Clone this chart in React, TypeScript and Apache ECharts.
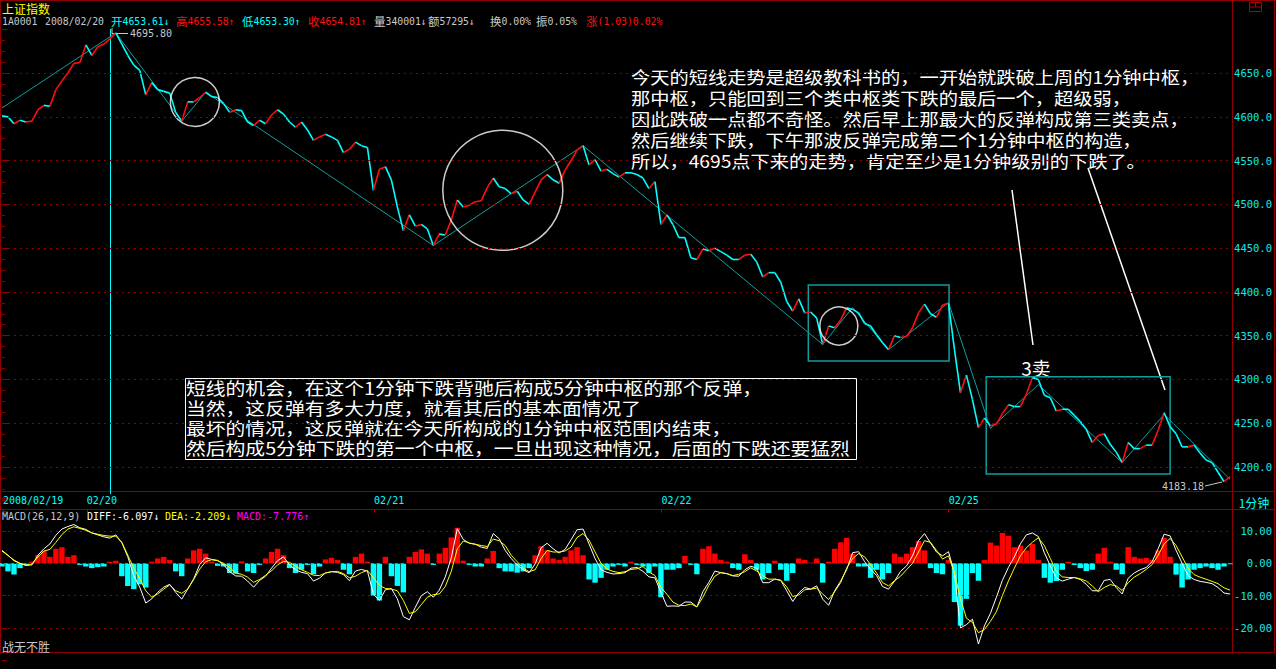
import React, { useEffect, useRef } from 'react';
import * as echarts from 'echarts';

// ---------- data ----------
const dayDates = ['02/19', '02/20', '02/21', '02/22', '02/25'];
const firstDayLabel = '2008/02/19';

// 5-minute samples of the 1-minute index line
const price = [
  4601, 4600, 4592, 4596, 4594, 4595, 4608, 4613, 4612, 4631, 4641, 4650, 4661, 4662,
  4682, 4670, 4680, 4683, 4689, 4695.8, 4683, 4670, 4659, 4653, 4625, 4639, 4631, 4629, 4627, 4605,
  4595, 4617, 4617, 4622, 4628, 4623, 4622, 4615, 4605, 4608, 4607, 4594, 4590, 4596, 4592, 4602,
  4608, 4603, 4594, 4588, 4594, 4585, 4573, 4577, 4580, 4577, 4573, 4559, 4563, 4571, 4567, 4565,
  4516, 4540, 4543, 4528, 4497, 4470, 4488, 4475, 4477, 4472, 4453, 4466, 4465, 4482, 4505, 4497,
  4499, 4503, 4504, 4519, 4530, 4520, 4518, 4512, 4515, 4505, 4500, 4514, 4528, 4534, 4528, 4524,
  4539, 4550, 4562, 4567, 4545, 4551, 4538, 4540, 4535, 4531, 4536, 4536, 4534, 4530, 4518, 4526,
  4477, 4488, 4477, 4462, 4462, 4439, 4437, 4449, 4447, 4450, 4446, 4442, 4437, 4437, 4442, 4443,
  4434, 4417, 4422, 4422, 4411, 4389, 4378, 4392, 4376, 4377, 4370, 4340, 4361, 4359, 4368, 4382,
  4380, 4376, 4364, 4361, 4351, 4342, 4334, 4350, 4348, 4349, 4359, 4376, 4386, 4375, 4371, 4385,
  4387, 4334, 4285, 4305, 4277, 4245, 4256, 4247, 4249, 4261, 4271, 4269, 4269, 4283, 4302, 4300,
  4282, 4279, 4264, 4266, 4266, 4259, 4252, 4243, 4228, 4236, 4238, 4226, 4217, 4205, 4228, 4221,
  4221, 4225, 4225, 4242, 4262, 4246, 4238, 4223, 4223, 4225, 4216, 4208, 4205, 4194, 4183.18, 4189,
];

const diff = [
  4.0, 2.5, 0.8, 0, -0.6, -0.5, 2.5, 4.5, 6.0, 8.7, 10.6, 11.4, 12.0, 11.0, 10.5, 9.4,
  8.8, 8.2, 7.8, 8.8, 6.4, 2.0, -3.8, -7.4, -12.3, -11.0, -9.0, -7.4, -6.5, -9.0, -11.1, -8.0,
  -4.8, -0.4, 1.7, 1.2, 0.9, -0.5, -2.6, -3.9, -4.0, -5.5, -7.4, -5.3, -4.0, -1.5, 0.8, 2.0,
  -0.5, -2.0, -2.8, -3.2, -5.5, -4.6, -3.0, -2.6, -2.8, -3.5, -5.4, -2.4, -1.9, -2.4, -9.5, -11.5,
  -8.2, -7.8, -11.0, -16.5, -17.5, -13.6, -10.0, -8.8, -10.5, -8.3, -4.2, 1.7, 10.7, 7.4, 6.2, 5.9,
  5.0, 4.6, 9.2, 7.6, 4.0, 1.5, -0.5, -2.0, -2.9, -0.2, 4.8, 6.2, 4.5, 3.2, 4.3, 7.3,
  10.4, 10.6, 6.0, 1.5, -2.0, -2.8, -3.3, -3.2, -2.9, -1.5, -1.3,
  -2.5, -4.2, -4.5, -9.0, -13.3, -13.2, -13.3, -12.0, -12.0, -13.5, -8.8, -5.9, -2.4, -2.9, -3.2,
  -3.9, -4.0, -2.0, -0.9, -1.5, -6.0, -6.0, -4.9, -5.3, -8.5, -11.8, -9.2, -7.5, -8.0, -7.0, -11.1,
  -13.0, -8.5, -5.5, -2.0, 3.3, 3.6, 0.5, -1.8, -3.8, -7.2, -8.0, -5.5, -2.5, -0.8, 2.3, 7.0,
  9.2, 6.3, 3.5, 2.3, 3.6, -3.0, -20.0, -19.0, -17.3, -25.0, -19.4, -15.5, -10.5, -5.3, -1.3, 2.0,
  6.0, 8.8, 9.4, 8.3, 3.3, -0.8, -4.5, -5.5, -4.9, -4.4, -5.0, -6.5, -8.5, -8.5, -5.3, -5.0,
  -7.5, -9.5, -4.6, -3.0, -2.0, -1.3, 0.5, 4.5, 9.0, 8.5, 4.0, 0.0, -3.8, -5.0, -5.6, -5.9,
  -6.3, -7.5, -9.2, -9.5,
];

const dea = [
  3.8, 2.4, 1.0, 0.0, -0.7, -0.2, 2.0, 3.8, 4.3, 6.5, 8.9, 10.6, 11.3, 10.8, 10.2, 9.4,
  9.0, 8.6, 8.4, 8.4, 6.5, 2.5, -1.5, -4.8, -8.5, -10.5, -9.5, -8.0, -6.7, -8.5, -9.3, -8.0,
  -5.0, -1.8, 0.5, 1.1, 0.8, 0.0, -1.3, -3.0, -3.4, -4.3, -5.9, -5.0, -3.7, -2.3, -0.5, 0.6,
  0.3, -0.9, -2.0, -2.8, -3.7, -3.8, -3.0, -2.6, -2.5, -3.2, -4.5, -4.0, -2.9, -2.2, -4.5, -6.8,
  -7.8, -8.0, -8.5, -11.5, -15.5, -15.0, -12.8, -10.5, -9.7, -9.5, -7.2, -2.5, 4.5, 6.9, 6.3, 5.9,
  5.5, 5.2, 7.5, 7.0, 5.5, 2.5, 0.5, -1.5, -2.6, -2.0, 1.5, 4.0, 3.5, 3.5, 3.8, 5.0,
  8.0, 9.2, 7.2, 3.5, 0.0, -1.8, -2.5, -2.9, -2.6, -1.9, -1.7,
  -1.0, -2.7, -3.8, -7.5, -9.6, -12.0, -13.0, -13.1, -12.6, -13.5, -10.5, -6.8, -4.0, -2.9, -3.2,
  -3.8, -3.4, -2.6, -1.4, -2.4, -3.9, -4.9, -4.9, -5.2, -7.3, -10.3, -9.8, -8.2, -8.0, -7.7, -9.5,
  -11.2, -8.8, -6.0, -1.5, 1.5, 3.0, 2.0, -0.4, -3.0, -6.0, -7.0, -5.4, -4.0, -2.0, 0.0, 3.5,
  7.0, 6.5, 4.0, 1.3, 2.3, -3.0, -11.0, -17.0, -18.3, -21.5, -20.5, -18.0, -15.0, -10.0, -5.5, -1.5,
  2.3, 4.8, 6.5, 7.9, 5.5, 1.5, -2.5, -4.2, -4.4, -4.4, -4.8, -5.5, -7.0, -8.8, -7.5, -6.6,
  -7.0, -8.4, -6.0, -4.3, -3.2, -1.9, -0.4, 2.5, 6.0, 7.7, 5.5, 2.0, -1.5, -3.5, -4.3, -4.9,
  -5.6, -6.3, -7.6, -8.3,
];

const macdBars = [
  -1.0, -2.5, -3.5, -1.5, -0.5, 0.5, 2.5, 3.8, 2.0, 4.5, 5.0, 2.0, 2.5, -0.5, -1.0, -1.5,
  -1.2, -1.0, 0.5, 0.8, -4.0, -7.0, -8.0, -6.5, -7.5, 0.5, 1.5, 2.0, 1.0, -2.5, -4.0, 1.5,
  4.0, 4.5, 3.0, 0.5, -0.8, -1.0, -3.0, -3.2, 0.6, -2.5, -3.0, -0.5, 1.5, 3.5, 4.5, 2.5,
  -1.5, -3.0, -2.0, -0.5, -3.4, -1.0, 1.2, 1.7, 1.0, -2.0, -3.4, 2.0, 3.0, 0.5, -10.0, -11.5,
  2.0, -4.0, -7.0, -9.0, 2.0, 3.5, 4.3, 3.0, -0.5, 3.0, 4.8, 8.0, 11.0, 0.8, -0.5, -1.0,
  -1.0, 1.5, 3.8, -1.5, -2.5, -2.5, -2.9, -2.5, -1.5, 2.5, 5.3, 4.0, 1.5, 1.0, 2.0, 4.0,
  5.0, 2.5, -5.0, -6.0, -4.5, -2.0, -1.0, -0.5, -1.0, 0.5, -0.5,
  -1.0, -3.0, -1.0, -10.5, -2.0, -2.0, -1.5, 2.3, -0.5, -3.4, 4.5, 5.3, 3.0, 1.0, 0.5,
  -1.5, -2.0, 2.8, 1.0, -2.0, -5.0, -3.0, 0.8, -2.0, -5.4, -3.0, 1.5, 1.0, 0.2, 1.5, -6.0,
  0.5, 4.5, 6.5, 7.9, 3.0, -1.0, -1.0, -4.5, -2.0, -5.0, -3.0, 3.0, 2.0, 3.0, 5.0, 6.9,
  4.0, -1.5, -3.0, -3.4, 1.0, -12.0, -19.3, -11.0, -3.0, -5.4, 1.0, 6.4, 5.5, 9.4, 8.5, 5.0,
  5.5, 4.0, 6.0, 1.0, -4.5, -6.0, -5.5, -2.0, 0.5, -0.5, -1.5, -2.4, -2.0, 3.0, 4.8, 0.5,
  -2.0, -3.4, 5.0, 2.0, 1.5, 1.7, 1.0, 4.0, 7.9, 2.0, -3.5, -7.5, -5.0, -2.0, -1.5, -1.0,
  -1.5, -2.0, -1.0, -0.3,
];

// trend strokes (bi) drawn over the price line: [sample index, price]
const strokeVertices = [
  [0, 4610], [19, 4695.8], [30, 4595], [34, 4628], [72, 4453], [97, 4567], [137, 4340],
  [142, 4382], [148, 4334], [158, 4388], [165, 4244], [173, 4294], [187, 4205], [194, 4260], [205, 4186],
];
// central pivot boxes: [start index, upper price], [end index, lower price]
const pivotBoxes = [
  [[134.6, 4408], [158.1, 4321]],
  [[164.3, 4303], [195.0, 4192]],
];
// circled rebounds: [centre index, centre price]
const circleCenters = [[32.2, 4617], [83.6, 4516], [139.7, 4361]];

const priceGridLevels = [4200, 4250, 4300, 4350, 4400, 4450, 4500, 4550, 4600, 4650];
const macdGridLevels = [10, 0, -10, -20];
const highText = '4695.80';
const lowText = '4183.18';

const noteTop = [
  '今天的短线走势是超级教科书的，一开始就跌破上周的1分钟中枢，',
  '那中枢，只能回到三个类中枢类下跌的最后一个，超级弱，',
  '因此跌破一点都不奇怪。然后早上那最大的反弹构成第三类卖点，',
  '然后继续下跌，下午那波反弹完成第二个1分钟中枢的构造，',
  '所以，4695点下来的走势，肯定至少是1分钟级别的下跌了。',
];
const noteBottom = [
  '短线的机会，在这个1分钟下跌背驰后构成5分钟中枢的那个反弹，',
  '当然，这反弹有多大力度，就看其后的基本面情况了',
  '最坏的情况，这反弹就在今天所构成的1分钟中枢范围内结束，',
  '然后构成5分钟下跌的第一个中枢，一旦出现这种情况，后面的下跌还要猛烈',
];

// ---------- helpers ----------
const pad = (n: number) => (n < 10 ? '0' : '') + n;
function sessionTimes(): string[] {
  const t: string[] = [];
  for (let m = 575; m <= 690; m += 5) t.push(pad(Math.floor(m / 60)) + ':' + pad(m % 60));
  for (let m = 785; m <= 900; m += 5) t.push(pad(Math.floor(m / 60)) + ':' + pad(m % 60));
  return t;
}
const session = sessionTimes();
const times: string[] = [];
session.slice(34).forEach((s) => times.push(dayDates[0] + ' ' + s));
dayDates.slice(1).forEach((d) => session.forEach((s) => times.push(d + ' ' + s)));
const labelIdx = new Set<number>([0]);
times.forEach((t, i) => { if (t.endsWith('09:35')) labelIdx.add(i); });

const FRAME = '#8e0000';
const DOT = '#900000';
const CYAN = '#00ffff';
const RED = '#ff1010';
const TEAL = '#119d9d';
const GRAY = '#c8c8c8';
const MONO = "'DejaVu Sans Mono', 'Noto Sans CJK SC', monospace";
const CJK = "'Noto Sans CJK SC', sans-serif";
const XMAX = 205.33;

function richSeg(x: number, y: number, head: string, body: string, color: string) {
  const text = (head ? '{h|' + head + '}' : '') + '{n|' + body + '}';
  return {
    type: 'text', x, y, silent: true,
    style: {
      text, fill: color, verticalAlign: 'middle', align: 'left',
      rich: {
        h: { fontSize: 11.5, fontFamily: CJK, fill: color, lineHeight: 12 },
        n: { fontSize: 9.8, fontFamily: MONO, fill: color, lineHeight: 12 },
      },
    },
  };
}
function noteLines(lines: string[], x: number, top: number, step: number, size: number, sx: number) {
  return lines.map((t, k) => ({
    type: 'text', x, y: top + k * step, scaleX: sx, silent: true,
    style: { text: t, fill: '#ffffff', fontSize: size, fontFamily: CJK, verticalAlign: 'middle', align: 'left' },
  }));
}
function hline(x1: number, x2: number, y: number, color = FRAME, w = 1) {
  return { type: 'line', silent: true, shape: { x1, y1: y, x2, y2: y }, style: { stroke: color, lineWidth: w } };
}
function vline(x: number, y1: number, y2: number, color = FRAME, w = 1) {
  return { type: 'line', silent: true, shape: { x1: x, y1, x2: x, y2 }, style: { stroke: color, lineWidth: w } };
}

export default function App() {
  const ref = useRef<HTMLDivElement>(null);
  useEffect(() => {
    document.body.style.margin = '0';
    document.body.style.background = '#000';
    const chart = echarts.init(ref.current!, null, { renderer: 'svg' });

    const graphic: any[] = [
      // frame
      hline(0, 1276, 0.5), vline(0.5, 0, 653), vline(1232.5, 0, 653), vline(1274.5, 0, 653),
      hline(0, 1275, 491.5), hline(0, 1275, 509.5), hline(0, 1275, 652.5),
      // top-right icon
      { type: 'rect', silent: true, shape: { x: 1249.5, y: 2.5, width: 12, height: 9 }, style: { fill: 'none', stroke: '#b00000', lineWidth: 1 } },
      hline(1249.5, 1261.5, 7, '#b00000'),
      vline(1255.5, 2.5, 7, '#b00000'),
      // header
      { type: 'text', x: 2, y: 2, silent: true, style: { text: '上证指数', fill: '#ffff00', fontSize: 12, fontFamily: CJK, verticalAlign: 'top', lineHeight: 12 } },
      richSeg(2, 21, '', '1A0001', GRAY),
      richSeg(45, 21, '', '2008/02/20', GRAY),
      richSeg(111, 21, '开', '4653.61↓', CYAN),
      richSeg(176, 21, '高', '4655.58↑', RED),
      richSeg(242, 21, '低', '4653.30↑', CYAN),
      richSeg(308, 21, '收', '4654.81↑', RED),
      richSeg(374, 21, '量', '340001↓', GRAY),
      richSeg(428, 21, '额', '57295↓', GRAY),
      richSeg(490, 21, '换', '0.00%', GRAY),
      richSeg(536, 21, '振', '0.05%', GRAY),
      richSeg(586, 21, '涨', '(1.03)0.02%', RED),
      // cursor
      vline(110.5, 29, 494, CYAN),
      // high / low labels
      { type: 'polyline', silent: true, shape: { points: [[112, 28], [112, 33.5], [128, 33.5]] }, style: { stroke: GRAY, lineWidth: 1, fill: 'none' } },
      { type: 'text', x: 130, y: 33, silent: true, style: { text: highText, fill: GRAY, fontSize: 10, fontFamily: MONO, verticalAlign: 'middle' } },
      { type: 'line', silent: true, shape: { x1: 1205, y1: 486, x2: 1222, y2: 482 }, style: { stroke: GRAY, lineWidth: 1 } },
      { type: 'text', x: 1162, y: 486, silent: true, style: { text: lowText, fill: GRAY, fontSize: 10, fontFamily: MONO, verticalAlign: 'middle' } },
      // annotations
      ...noteLines(noteTop, 631, 76, 21, 17.5, 1.1),
      { type: 'rect', silent: true, shape: { x: 185.5, y: 378.5, width: 671, height: 81 }, style: { fill: 'none', stroke: '#ffffff', lineWidth: 1 } },
      ...noteLines(noteBottom, 186, 387.5, 20, 17, 1.165),
      { type: 'text', x: 1036, y: 367, silent: true, style: { text: '3卖', fill: '#ffffff', fontSize: 19, fontFamily: CJK, align: 'center', verticalAlign: 'middle' } },
      { type: 'line', silent: true, shape: { x1: 1012, y1: 190, x2: 1033, y2: 345 }, style: { stroke: '#ffffff', lineWidth: 1.5 } },
      { type: 'line', silent: true, shape: { x1: 1088, y1: 168, x2: 1165, y2: 390 }, style: { stroke: '#ffffff', lineWidth: 1.5 } },
      // MACD header
      { type: 'text', x: 2, y: 516, silent: true, style: { text: 'MACD(26,12,9)', fill: GRAY, fontSize: 10, fontFamily: MONO, verticalAlign: 'middle' } },
      { type: 'text', x: 87, y: 516, silent: true, style: { text: 'DIFF:-6.097↓', fill: '#ffffff', fontSize: 10, fontFamily: MONO, verticalAlign: 'middle' } },
      { type: 'text', x: 165, y: 516, silent: true, style: { text: 'DEA:-2.209↓', fill: '#ffff00', fontSize: 10, fontFamily: MONO, verticalAlign: 'middle' } },
      { type: 'text', x: 237, y: 516, silent: true, style: { text: 'MACD:-7.776↑', fill: '#ff00ff', fontSize: 10, fontFamily: MONO, verticalAlign: 'middle' } },
      // footer / unit
      { type: 'text', x: 2, y: 646, silent: true, style: { text: '战无不胜', fill: GRAY, fontSize: 12, fontFamily: CJK, verticalAlign: 'middle' } },
      { type: 'text', x: 1254, y: 502, silent: true, style: { text: '1分钟', fill: CYAN, fontSize: 12, fontFamily: CJK, align: 'center', verticalAlign: 'middle' } },
    ];

    const option: any = {
      animation: false,
      backgroundColor: '#000000',
      grid: [
        { left: 2, right: 44, top: 29.2, height: 481.6 },
        { left: 2, right: 44, top: 498.7, height: 161.5 },
        { left: 2, right: 46, top: 491.5, height: 18 },
      ],
      xAxis: [
        { type: 'value', gridIndex: 0, min: 0, max: XMAX, show: false },
        { type: 'value', gridIndex: 1, min: 0, max: XMAX, show: false },
        {
          type: 'category', gridIndex: 2, data: times, boundaryGap: false, position: 'top',
          axisLine: { show: false },
          axisTick: { show: true, inside: true, length: 3, interval: (i: number) => labelIdx.has(i), lineStyle: { color: '#c00000' } },
          axisLabel: {
            inside: true, margin: 4, align: 'left', color: CYAN, fontSize: 10, fontFamily: MONO,
            interval: (i: number) => labelIdx.has(i),
            formatter: (v: string, i: number) => (i === 0 ? firstDayLabel : v.slice(0, 5)),
          },
          splitLine: { show: false },
        },
      ],
      yAxis: [
        {
          type: 'value', gridIndex: 0, position: 'right', min: 4150, max: 4700, interval: 50,
          axisLine: { show: false },
          axisTick: { show: true, length: 6, lineStyle: { color: FRAME } },
          minorTick: { show: true, splitNumber: 4, length: 3, lineStyle: { color: FRAME } },
          axisLabel: {
            color: '#10e8e8', fontSize: 10.5, fontFamily: MONO, margin: 40, align: 'right',
            formatter: (v: number) => (v < 4200 || v > 4650 ? '' : v.toFixed(1)),
          },
          splitLine: { show: false },
        },
        {
          type: 'value', gridIndex: 1, position: 'right', min: -30, max: 20, interval: 10,
          axisLine: { show: false },
          axisTick: { show: true, length: 5, lineStyle: { color: FRAME } },
          axisLabel: {
            color: '#10e8e8', fontSize: 10.5, fontFamily: MONO, margin: 40, align: 'right',
            formatter: (v: number) => (v < -20 || v > 10 ? '' : v.toFixed(2)),
          },
          splitLine: { show: false },
        },
        { type: 'value', gridIndex: 2, show: false },
      ],
      series: [
        {
          type: 'line', xAxisIndex: 0, yAxisIndex: 0, data: strokeVertices, symbol: 'none', silent: true, z: 2,
          lineStyle: { color: TEAL, width: 1 },
          markLine: {
            silent: true, symbol: ['none', 'none'], label: { show: false },
            lineStyle: { color: DOT, type: [2, 4], width: 1 },
            data: priceGridLevels.map((v) => ({ yAxis: v })),
          },
          markArea: {
            silent: true, label: { show: false },
            itemStyle: { color: 'rgba(0,0,0,0)', borderColor: TEAL, borderWidth: 1.5 },
            data: pivotBoxes.map((b) => [{ coord: b[0] }, { coord: b[1] }]),
          },
        },
        {
          type: 'custom', xAxisIndex: 0, yAxisIndex: 0, silent: true, z: 3,
          data: price.map((p, i) => [i, p]),
          encode: { x: 0, y: 1 },
          renderItem: (params: any, api: any) => {
            const i = params.dataIndex;
            if (i === 0) return { type: 'group', children: [] };
            const a = api.coord([i - 1, price[i - 1]]);
            const b = api.coord([i, price[i]]);
            const up = price[i] > price[i - 1];
            return {
              type: 'line',
              shape: { x1: a[0], y1: a[1], x2: b[0], y2: b[1] },
              style: { stroke: up ? RED : CYAN, lineWidth: 1.6 },
            };
          },
        },
        {
          type: 'scatter', xAxisIndex: 0, yAxisIndex: 0, data: circleCenters, silent: true, z: 4,
          symbol: 'circle',
          symbolSize: (_v: any, p: any) => [49, 120, 38][p.dataIndex],
          itemStyle: { color: 'rgba(0,0,0,0)', borderColor: '#ffffff', borderWidth: 1.5 },
        },
        {
          type: 'bar', xAxisIndex: 1, yAxisIndex: 1, silent: true, barWidth: 5.4,
          data: macdBars.map((v, i) => [i, v]),
          itemStyle: { color: (p: any) => (p.value[1] >= 0 ? '#ff0000' : '#00ffff') },
          markLine: {
            silent: true, symbol: ['none', 'none'], label: { show: false },
            lineStyle: { color: DOT, type: [2, 4], width: 1 },
            data: macdGridLevels.map((v) => ({ yAxis: v })),
          },
        },
        {
          type: 'line', xAxisIndex: 1, yAxisIndex: 1, silent: true, symbol: 'none', z: 5,
          data: diff.map((v, i) => [i, v]), lineStyle: { color: '#ffffff', width: 1 },
        },
        {
          type: 'line', xAxisIndex: 1, yAxisIndex: 1, silent: true, symbol: 'none', z: 5,
          data: dea.map((v, i) => [i, v]), lineStyle: { color: '#ffff00', width: 1 },
        },
      ],
      graphic,
    };
    chart.setOption(option);
    return () => chart.dispose();
  }, []);
  return (
    <div
      ref={ref}
      style={{ position: 'fixed', left: 0, top: 0, width: 1276, height: 669, background: '#000' }}
    />
  );
}
